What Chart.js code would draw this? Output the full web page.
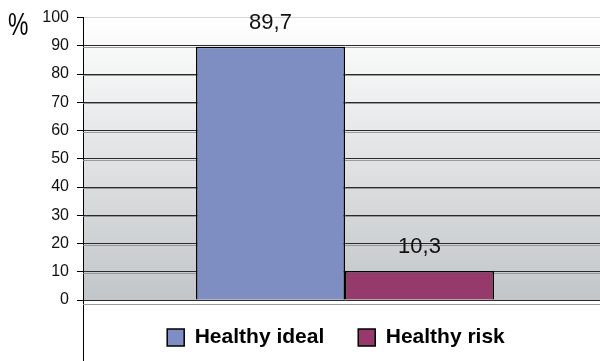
<!DOCTYPE html>
<html>
<head>
<meta charset="utf-8">
<script src="https://cdn.jsdelivr.net/npm/chart.js@4/dist/chart.umd.min.js"></script>
<style>
  html, body { margin: 0; padding: 0; background: #ffffff; overflow: hidden; }
  #wrap { width: 600px; height: 361px; position: relative; overflow: hidden; }
  #c { display: block; }
</style>
</head>
<body>
<div id="wrap"><canvas id="c" width="607" height="361"></canvas></div>
<script>
// Share of participants by cardiovascular health status (%)
const categories = [''];
const seriesNames = ['Healthy ideal', 'Healthy risk'];
const idealValues = [89.7];
const riskValues = [10.3];
const seriesColors = ['#7e8ec3', '#963a6c'];
const yTicks = { min: 0, max: 100, step: 10 };
const unitLabel = '%';

const FONT = '"Liberation Sans", Arial, sans-serif';

// Soft vertical gradient behind the plot area, plus the frame lines below it
const plotBackdrop = {
  id: 'plotBackdrop',
  beforeDraw(chart) {
    const { ctx, chartArea: a } = chart;
    const g = ctx.createLinearGradient(0, a.top, 0, a.bottom);
    g.addColorStop(0, '#ffffff');
    g.addColorStop(1, '#c2c6c8');
    ctx.save();
    ctx.fillStyle = g;
    ctx.fillRect(a.left, a.top, a.right - a.left, a.bottom - a.top);
    ctx.restore();
  },
  beforeDatasetsDraw(chart) {
    // light line under every dark grid line
    const { ctx, chartArea: a, scales } = chart;
    const y = scales.y;
    ctx.save();
    ctx.strokeStyle = 'rgba(140,140,140,0.85)';
    ctx.lineWidth = 1;
    y.ticks.forEach(t => {
      if (t.value <= yTicks.min || t.value >= yTicks.max) return;
      const py = Math.round(y.getPixelForValue(t.value)) + 1.5;
      ctx.beginPath();
      ctx.moveTo(a.left, py);
      ctx.lineTo(a.right, py);
      ctx.stroke();
    });
    ctx.restore();
  },
  afterDraw(chart) {
    const { ctx, chartArea: a } = chart;
    ctx.save();
    // axis line continues down past the legend band
    ctx.strokeStyle = '#000000';
    ctx.lineWidth = 1;
    ctx.beginPath();
    ctx.moveTo(a.left + 0.5, a.bottom);
    ctx.lineTo(a.left + 0.5, chart.height);
    ctx.stroke();
    // separator above the legend band
    ctx.strokeStyle = '#9a9a9a';
    ctx.beginPath();
    ctx.moveTo(a.left, a.bottom + 4.5);
    ctx.lineTo(chart.width, a.bottom + 4.5);
    ctx.stroke();
    // unit label
    ctx.fillStyle = '#000000';
    ctx.font = '31px ' + FONT;
    ctx.textAlign = 'left';
    ctx.textBaseline = 'alphabetic';
    ctx.translate(8, 35);
    ctx.scale(0.74, 1);
    ctx.fillText(unitLabel, 0, 0);
    ctx.restore();
  }
};

// Value printed above each bar, decimal comma
const valueLabels = {
  id: 'valueLabels',
  afterDatasetsDraw(chart) {
    const { ctx } = chart;
    ctx.save();
    ctx.fillStyle = '#111111';
    ctx.font = '22px ' + FONT;
    ctx.textAlign = 'center';
    ctx.textBaseline = 'middle';
    chart.data.datasets.forEach((ds, i) => {
      const meta = chart.getDatasetMeta(i);
      meta.data.forEach((bar, j) => {
        const txt = ds.data[j].toFixed(1).replace('.', ',');
        ctx.fillText(txt, bar.x, bar.y - 24);
      });
    });
    ctx.restore();
  }
};

// Centre the legend row a little left of the plot centre and lift it slightly
const legendShift = {
  id: 'legendShift',
  afterLayout(chart) {
    const lg = chart.legend;
    if (lg) { lg.left -= 9; lg.right -= 9; lg.top -= 7; }
  }
};

new Chart(document.getElementById('c'), {
  type: 'bar',
  data: {
    labels: categories,
    datasets: [
      { label: seriesNames[0], data: idealValues, backgroundColor: seriesColors[0], borderColor: '#000000', borderWidth: 1.5 },
      { label: seriesNames[1], data: riskValues, backgroundColor: seriesColors[1], borderColor: '#000000', borderWidth: 1.5 }
    ]
  },
  options: {
    responsive: false,
    animation: false,
    events: [],
    layout: { padding: { top: 17, right: 0, bottom: 0, left: 0 } },
    datasets: { bar: { categoryPercentage: 0.5687, barPercentage: 1.0 } },
    scales: {
      x: { display: false },
      y: {
        min: yTicks.min,
        max: yTicks.max,
        ticks: {
          stepSize: yTicks.step,
          color: '#111111',
          padding: 8,
          font: { family: FONT, size: 16 }
        },
        grid: {
          color: ctx => (ctx.tick && ctx.tick.value === yTicks.max) ? '#d6d6d6' : '#2a2a2a',
          tickColor: '#000000',
          tickLength: 6,
          lineWidth: 1
        },
        border: { color: '#000000', width: 1 },
        afterFit(scale) { scale.width = 83; }
      }
    },
    plugins: {
      tooltip: { enabled: false },
      legend: {
        position: 'bottom',
        fullSize: false,
        maxHeight: 61,
        labels: {
          boxWidth: 17,
          boxHeight: 17,
          padding: 34,
          color: '#000000',
          font: { family: FONT, size: 21, weight: 'bold', lineHeight: 1.48 }
        }
      }
    }
  },
  plugins: [plotBackdrop, valueLabels, legendShift]
});
</script>
</body>
</html>
